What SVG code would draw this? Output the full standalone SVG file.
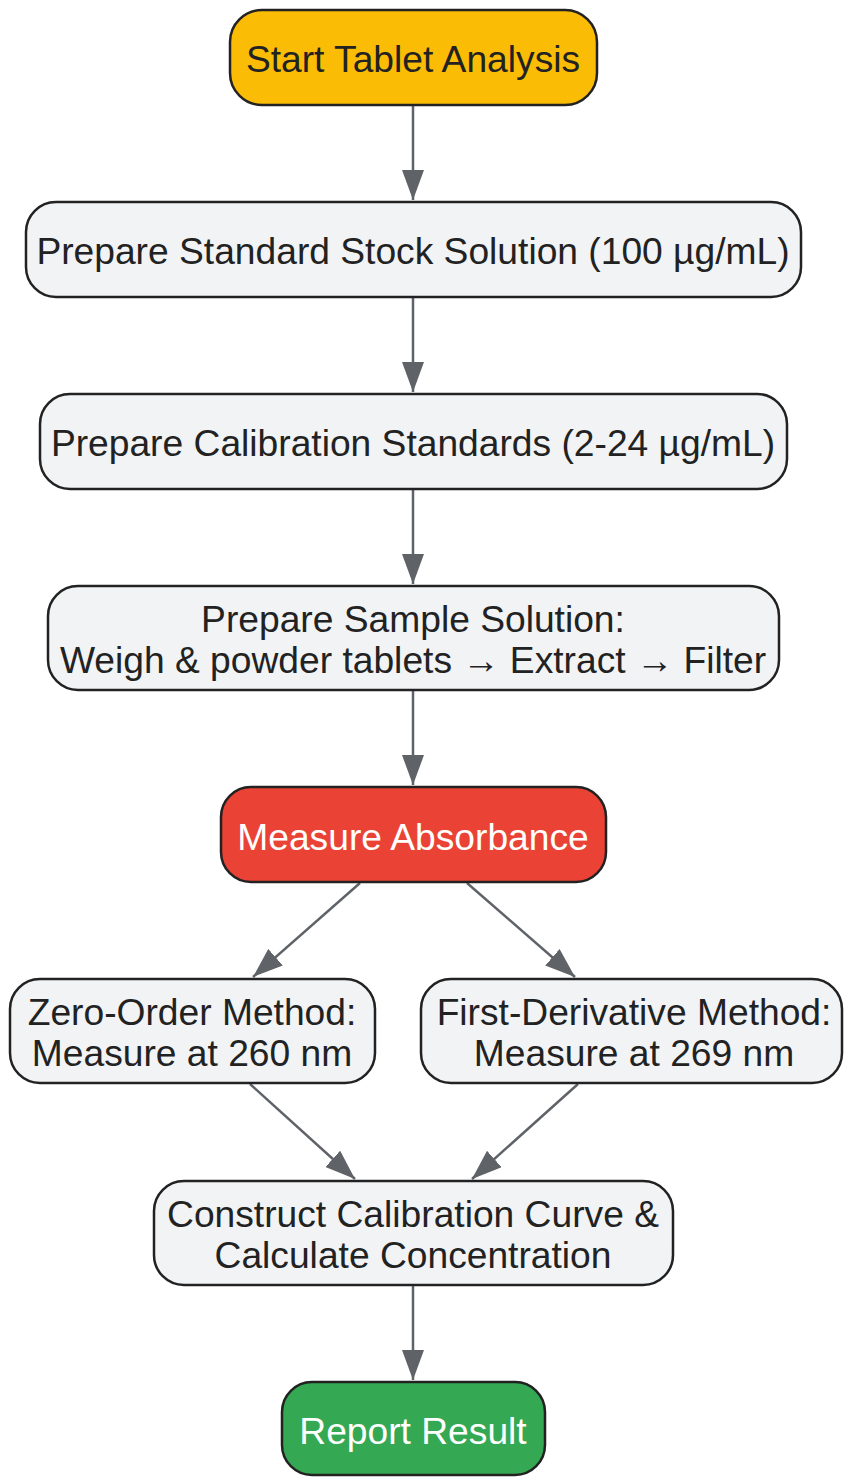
<svg xmlns="http://www.w3.org/2000/svg" width="844" height="1477" viewBox="0 0 844 1477">
<defs>
<style>
.n{stroke:#222;stroke-width:2.5}
.g{fill:#F1F3F5}
.t{font-family:"Liberation Sans",Arial,sans-serif;font-size:37.2px;fill:#222;text-anchor:middle}
.w{fill:#fff}
</style>
<marker id="ahb" viewBox="0 0 30 22" refX="30" refY="11" markerWidth="30" markerHeight="22" markerUnits="userSpaceOnUse" orient="auto">
<path d="M0,0 L30,11 L0,22 z" fill="#5F6368"/>
</marker>
</defs>
<rect width="844" height="1477" fill="#fff"/>
<g id="connectors" stroke="#5F6368" stroke-width="2.5" fill="none">
<path d="M413,105 V200" marker-end="url(#ahb)"/>
<path d="M413,297 V392" marker-end="url(#ahb)"/>
<path d="M413,489 V584" marker-end="url(#ahb)"/>
<path d="M413,690 V785" marker-end="url(#ahb)"/>
<path d="M360,883 L253,977" marker-end="url(#ahb)"/>
<path d="M467,883 L575,977" marker-end="url(#ahb)"/>
<path d="M250,1084 L355,1179" marker-end="url(#ahb)"/>
<path d="M578,1084 L472,1179" marker-end="url(#ahb)"/>
<path d="M413,1286 V1380" marker-end="url(#ahb)"/>
</g>
<g id="start">
<rect class="n" x="230" y="10" width="367" height="95" rx="32" fill="#FBBC05"/>
<text class="t" x="413" y="72">Start Tablet Analysis</text>
</g>
<g id="stock">
<rect class="n g" x="26" y="202" width="775" height="95" rx="30"/>
<text class="t" x="413" y="264">Prepare Standard Stock Solution (100 µg/mL)</text>
</g>
<g id="calib">
<rect class="n g" x="40" y="394" width="747" height="95" rx="30"/>
<text class="t" x="413" y="456">Prepare Calibration Standards (2-24 µg/mL)</text>
</g>
<g id="sample">
<rect class="n g" x="48" y="586" width="731" height="104" rx="30"/>
<text class="t" x="413" y="632">Prepare Sample Solution:</text>
<text class="t" x="413" y="673">Weigh &amp; powder tablets → Extract → Filter</text>
</g>
<g id="measure">
<rect class="n" x="221" y="787" width="385" height="95" rx="30" fill="#EA4335"/>
<text class="t w" x="413" y="850">Measure Absorbance</text>
</g>
<g id="zero">
<rect class="n g" x="10" y="979" width="365" height="104" rx="30"/>
<text class="t" x="192" y="1025">Zero-Order Method:</text>
<text class="t" x="192" y="1066">Measure at 260 nm</text>
</g>
<g id="first">
<rect class="n g" x="421" y="979" width="421" height="104" rx="30"/>
<text class="t" x="634" y="1025">First-Derivative Method:</text>
<text class="t" x="634" y="1066">Measure at 269 nm</text>
</g>
<g id="curve">
<rect class="n g" x="154" y="1181" width="519" height="104" rx="30"/>
<text class="t" x="413" y="1227">Construct Calibration Curve &amp;</text>
<text class="t" x="413" y="1268">Calculate Concentration</text>
</g>
<g id="report">
<rect class="n" x="282" y="1382" width="263" height="93" rx="30" fill="#34A853"/>
<text class="t w" x="413" y="1444">Report Result</text>
</g>
</svg>
